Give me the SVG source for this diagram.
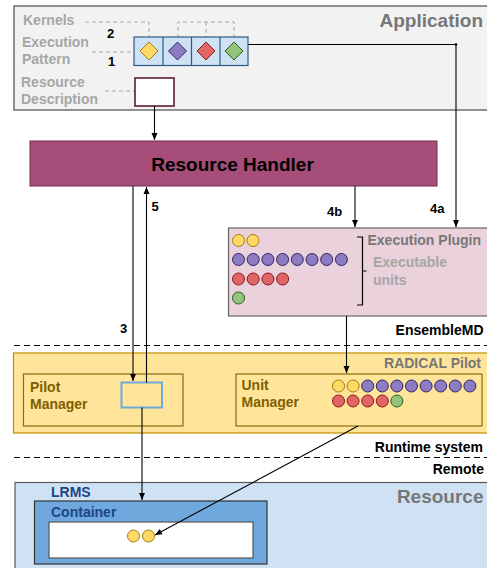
<svg xmlns="http://www.w3.org/2000/svg" width="487" height="568" viewBox="0 0 487 568">
<style>
text{font-family:"Liberation Sans",Arial,sans-serif;font-weight:bold}
.lbl{font-size:14px;fill:#a6a6a6}
.dash{fill:none;stroke:#a6a6a6;stroke-width:1;stroke-dasharray:4,3}
.num{font-size:13px;fill:#000}
.ttl{font-size:14px;fill:#777}
.big{font-size:19px;fill:#777}
.blk{font-size:14px;fill:#000}
.brown{font-size:14px;fill:#7f6000}
.blue{font-size:14px;fill:#1c4587}
.conn{fill:none;stroke:#000;stroke-width:1.1}
.sep{fill:none;stroke:#000;stroke-width:1.2;stroke-dasharray:6,4}
.y{fill:#ffd966;stroke:#a07d12;stroke-width:1}
.p{fill:#8e7cc3;stroke:#2e2466;stroke-width:1}
.r{fill:#e06666;stroke:#8b1a1a;stroke-width:1}
.g{fill:#93c47d;stroke:#2f5f1f;stroke-width:1}
</style>
<defs>
<marker id="ah" markerWidth="8" markerHeight="8" refX="7" refY="4" orient="auto" markerUnits="userSpaceOnUse">
<path d="M0,1 L7,4 L0,7 Z" fill="#000"/>
</marker>
</defs>

<g id="application">
<rect x="14" y="6" width="480" height="104" fill="#f2f2f2" stroke="#595959" stroke-width="1.3"/>
<text class="big" x="483" y="27" text-anchor="end">Application</text>
<text class="lbl" x="23" y="25">Kernels</text>
<text class="lbl" x="22" y="47">Execution</text>
<text class="lbl" x="22" y="64">Pattern</text>
<text class="lbl" x="21" y="87">Resource</text>
<text class="lbl" x="21" y="103.5">Description</text>
<path class="dash" d="M85,22 H149 V45 M178,45 V22 H234 V45 M206,22 V45 M92,52 H134 M105,91 H135"/>
<text class="num" x="107" y="38">2</text>
<text class="num" x="108" y="66">1</text>
</g>

<g id="execution-pattern">
<rect x="134" y="37" width="114" height="28.5" fill="#cfe2f3" stroke="#2b5a86" stroke-width="1.2"/>
<path d="M163,37 V65.5 M191.5,37 V65.5 M220,37 V65.5" stroke="#2b5a86" stroke-width="1.2"/>
<path class="y" d="M149,42 L158,51 L149,60 L140,51 Z"/>
<path class="p" d="M177.5,42 L186.5,51 L177.5,60 L168.5,51 Z"/>
<path class="r" d="M206,42 L215,51 L206,60 L197,51 Z"/>
<path class="g" d="M234,42 L243,51 L234,60 L225,51 Z"/>
</g>

<g id="resource-description">
<rect x="135" y="78" width="39" height="28" fill="#fff" stroke="#5b1a3a" stroke-width="1.6"/>
</g>

<g id="resource-handler">
<rect x="30" y="141" width="407" height="45" fill="#a64d79" stroke="#6d2f4f" stroke-width="1"/>
<text x="232.5" y="171" text-anchor="middle" style="font-size:19px;fill:#000">Resource Handler</text>
</g>

<g id="execution-plugin">
<rect x="228.5" y="228" width="262" height="88" fill="#ead1dc" stroke="#666" stroke-width="1.2"/>
<circle class="y" cx="238.5" cy="240.5" r="6"/>
<circle class="y" cx="253" cy="240.5" r="6"/>
<circle class="p" cx="238.5" cy="259.5" r="6"/>
<circle class="p" cx="253.2" cy="259.5" r="6"/>
<circle class="p" cx="267.9" cy="259.5" r="6"/>
<circle class="p" cx="282.6" cy="259.5" r="6"/>
<circle class="p" cx="297.3" cy="259.5" r="6"/>
<circle class="p" cx="312" cy="259.5" r="6"/>
<circle class="p" cx="326.7" cy="259.5" r="6"/>
<circle class="p" cx="341.4" cy="259.5" r="6"/>
<circle class="r" cx="238.5" cy="279" r="6"/>
<circle class="r" cx="253.2" cy="279" r="6"/>
<circle class="r" cx="267.9" cy="279" r="6"/>
<circle class="r" cx="282.6" cy="279" r="6"/>
<circle class="g" cx="238.5" cy="298" r="6"/>
<path d="M357,237 H362.5 V305 H357 M362.5,271 H366.5" fill="none" stroke="#000" stroke-width="1.2"/>
<text class="ttl" x="367.5" y="245">Execution Plugin</text>
<text class="lbl" x="373" y="266.5">Executable</text>
<text class="lbl" x="373" y="284.5">units</text>
</g>
<text class="blk" x="483.5" y="335" text-anchor="end">EnsembleMD</text>

<g id="radical-pilot">
<rect x="13.5" y="353" width="480" height="80" fill="#ffe599" stroke="#bf9000" stroke-width="1.2"/>
<text class="ttl" x="481" y="367.5" text-anchor="end">RADICAL Pilot</text>
</g>

<g id="pilot-manager">
<rect x="23.5" y="374" width="159.5" height="52" fill="#ffe599" stroke="#8a6a10" stroke-width="1.2"/>
<text class="brown" x="30" y="392">Pilot</text>
<text class="brown" x="30" y="409">Manager</text>
<rect x="121.5" y="382.5" width="40.5" height="25" fill="#ffe599" stroke="#6fa8dc" stroke-width="2"/>
</g>

<g id="unit-manager">
<rect x="236" y="374" width="246" height="52" fill="#ffe599" stroke="#8a6a10" stroke-width="1.2"/>
<text class="brown" x="241.5" y="389.5">Unit</text>
<text class="brown" x="241.5" y="407">Manager</text>
<circle class="y" cx="338.5" cy="386" r="6"/>
<circle class="y" cx="353.1" cy="386" r="6"/>
<circle class="p" cx="367.7" cy="386" r="6"/>
<circle class="p" cx="382.3" cy="386" r="6"/>
<circle class="p" cx="396.9" cy="386" r="6"/>
<circle class="p" cx="411.5" cy="386" r="6"/>
<circle class="p" cx="426.1" cy="386" r="6"/>
<circle class="p" cx="440.7" cy="386" r="6"/>
<circle class="p" cx="455.3" cy="386" r="6"/>
<circle class="p" cx="469.9" cy="386" r="6"/>
<circle class="r" cx="338.5" cy="401" r="6"/>
<circle class="r" cx="353.1" cy="401" r="6"/>
<circle class="r" cx="367.7" cy="401" r="6"/>
<circle class="r" cx="382.3" cy="401" r="6"/>
<circle class="g" cx="396.9" cy="401" r="6"/>
</g>

<text class="blk" x="483" y="451.5" text-anchor="end">Runtime system</text>
<text class="blk" x="484" y="474" text-anchor="end">Remote</text>
<path class="sep" d="M14,345.5 H487 M14,457.5 H487"/>

<g id="resource">
<rect x="15" y="482.5" width="480" height="90" fill="#cfe2f3" stroke="#595959" stroke-width="1.2"/>
<text class="big" x="483.5" y="503" text-anchor="end">Resource</text>
<text class="blue" x="51" y="496.5">LRMS</text>
</g>

<g id="container">
<rect x="34.5" y="501" width="232.5" height="63" fill="#6fa8dc" stroke="#333" stroke-width="1.2"/>
<text class="blue" x="51" y="516.5">Container</text>
<rect x="49" y="522" width="204" height="36" fill="#fff" stroke="#555" stroke-width="1.2"/>
<circle class="y" cx="133.5" cy="536" r="6"/>
<circle class="y" cx="148.5" cy="536" r="6"/>
</g>

<g id="connectors">
<path class="conn" d="M154.5,106 V140" marker-end="url(#ah)"/>
<path class="conn" d="M248,44.5 H456 V227" marker-end="url(#ah)"/>
<circle cx="456" cy="44.5" r="1.3" fill="#000"/>
<path class="conn" d="M355,186 V227" marker-end="url(#ah)"/>
<path class="conn" d="M133,186 V381" marker-end="url(#ah)"/>
<path class="conn" d="M146.5,382.5 V187" marker-end="url(#ah)"/>
<path class="conn" d="M346.5,316 V373" marker-end="url(#ah)"/>
<path class="conn" d="M142,407.5 V500" marker-end="url(#ah)"/>
<path class="conn" d="M358,426 L155,535" marker-end="url(#ah)"/>
<text class="num" x="151.5" y="211">5</text>
<text class="num" x="327" y="216">4b</text>
<text class="num" x="430" y="213">4a</text>
<text class="num" x="120" y="333">3</text>
</g>
</svg>
